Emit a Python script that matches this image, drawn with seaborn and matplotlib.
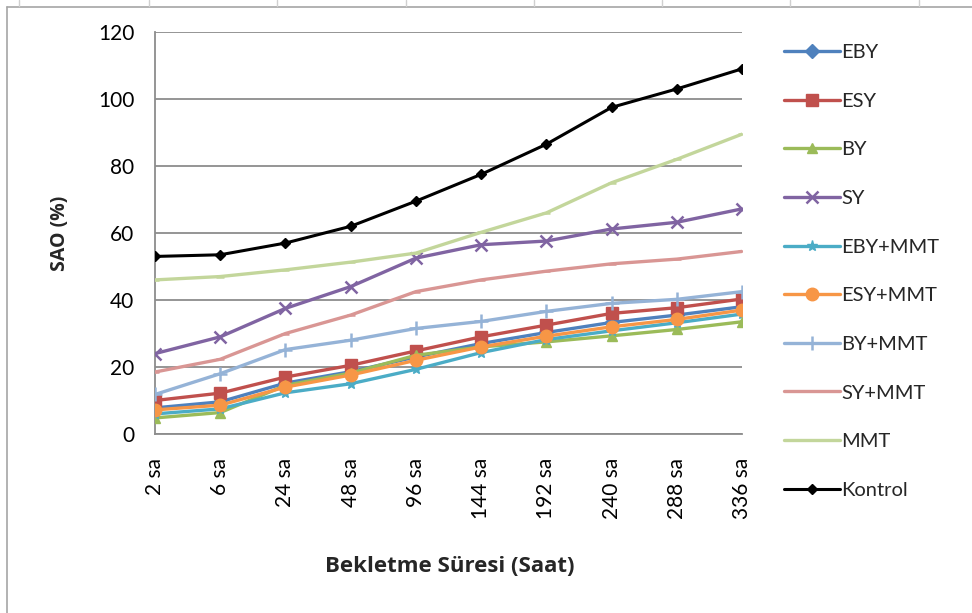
import matplotlib
matplotlib.use("Agg")
import matplotlib.pyplot as plt
from matplotlib.lines import Line2D
import seaborn as sns
import pandas as pd

# Storage times and SAO (%) values per treatment
times = ["2 sa", "6 sa", "24 sa", "48 sa", "96 sa", "144 sa", "192 sa", "240 sa", "288 sa", "336 sa"]

eby = [7.8, 9.6, 15.2, 18.6, 23.0, 27.0, 30.3, 33.3, 35.5, 38.0]
esy = [10.0, 12.2, 17.0, 20.5, 24.8, 29.0, 32.5, 36.0, 37.7, 40.3]
by = [4.8, 6.4, 14.5, 18.2, 23.5, 26.0, 27.5, 29.3, 31.2, 33.5]
sy = [24.0, 29.0, 37.5, 44.0, 52.5, 56.5, 57.6, 61.2, 63.2, 67.2]
eby_mmt = [6.0, 7.5, 12.3, 15.0, 19.3, 24.3, 28.2, 30.8, 33.2, 35.8]
esy_mmt = [7.2, 8.6, 14.0, 17.6, 22.0, 26.0, 29.2, 32.0, 34.2, 37.0]
by_mmt = [11.8, 18.0, 25.2, 28.0, 31.5, 33.6, 36.6, 39.0, 40.2, 42.5]
sy_mmt = [18.5, 22.3, 30.0, 35.5, 42.5, 46.0, 48.6, 50.8, 52.2, 54.5]
mmt = [46.0, 47.0, 49.0, 51.3, 54.0, 60.2, 66.0, 75.0, 82.0, 89.5]
kontrol = [53.0, 53.5, 57.0, 62.0, 69.5, 77.5, 86.5, 97.5, 103.0, 109.0]

names = ["EBY", "ESY", "BY", "SY", "EBY+MMT", "ESY+MMT", "BY+MMT", "SY+MMT", "MMT", "Kontrol"]
values = [eby, esy, by, sy, eby_mmt, esy_mmt, by_mmt, sy_mmt, mmt, kontrol]

colors = ["#4F81BD", "#C0504D", "#9BBB59", "#8064A2", "#4BACC6",
          "#F79646", "#95B3D7", "#D99694", "#C3D69B", "#000000"]
markers = ["D", "s", "^", "x", "*", "o", "+", "_", "_", "D"]
msizes = [7, 8.5, 7.5, 9, 8, 9, 10, 6, 6, 5.5]
lwidths = [2.4, 2.4, 2.4, 2.4, 2.4, 2.4, 2.4, 2.4, 2.4, 2.2]

sns.set_style("white")
plt.rcParams["font.family"] = ["Lato", "DejaVu Sans"]

fig = plt.figure(figsize=(9.72, 6.13), dpi=100)
W, H = 972, 613
ax = fig.add_axes([155 / W, (H - 434) / H, (742 - 155) / W, (434 - 32) / H])

rows = []
for n, v in zip(names, values):
    for i, val in enumerate(v):
        rows.append({"series": n, "pos": i, "value": val})
df = pd.DataFrame(rows)

handles = []
for n, c, m, ms, lw in zip(names, colors, markers, msizes, lwidths):
    sub = df[df["series"] == n]
    mew = 1.8 if m in ("x", "+", "_") else 1.0
    sns.lineplot(data=sub, x="pos", y="value", ax=ax, color=c, lw=lw,
                 marker=m, markersize=ms, markeredgecolor=c, markerfacecolor=c,
                 markeredgewidth=mew, legend=False, zorder=3)
    lm = "None" if n in ("SY+MMT", "MMT") else m
    handles.append(Line2D([0], [0], color=c, lw=lw, marker=lm, markersize=ms,
                          markeredgecolor=c, markerfacecolor=c, markeredgewidth=mew))

ax.set_xlim(0, 9)
ax.set_ylim(0, 120)
ax.set_yticks(range(0, 121, 20))
ax.set_xticks(range(len(times)))
ax.set_xticklabels(times, rotation=90, va="top", ha="center")

ax.yaxis.grid(True, color="#8C8C8C", lw=1.3)
ax.set_axisbelow(True)
for s in ("top", "right"):
    ax.spines[s].set_visible(False)
for s in ("left", "bottom"):
    ax.spines[s].set_color("#8C8C8C")
    ax.spines[s].set_linewidth(1.3)
ax.tick_params(axis="both", which="major", direction="out", length=6,
               width=1.3, color="#8C8C8C", labelsize=15, labelcolor="black")
ax.tick_params(axis="y", pad=9)
ax.tick_params(axis="x", pad=11)

title_font = {"family": ["Open Sans", "DejaVu Sans"], "weight": "bold"}
ax.set_xlabel("Bekletme Süresi (Saat)", fontdict=title_font, fontsize=16)
ax.set_ylabel("SAO (%)", fontdict=title_font, fontsize=14)
ax.xaxis.set_label_coords((450 - 155) / (742 - 155), -(567 - 434) / (434 - 32))
ax.yaxis.set_label_coords(-(155 - 60) / (742 - 155), (434 - 233) / (434 - 32))
ax.xaxis.label.set_va("center")
ax.yaxis.label.set_va("center")

fig.legend(handles, names, loc="upper left",
           bbox_to_anchor=(766 / W, (H - 26) / H), frameon=False,
           fontsize=14.5, labelspacing=1.565, handlelength=2.75, handletextpad=0.1)

# chart frame and sheet cell lines behind it
frame_kw = dict(color="#A6A6A6", lw=1.2, transform=None)
fig.add_artist(Line2D([7, 7], [0, H - 7], **frame_kw))
fig.add_artist(Line2D([7, W], [H - 7, H - 7], **frame_kw))
for xc in [19, 149, 277, 406, 534, 662, 790, 919]:
    fig.add_artist(Line2D([xc, xc], [H - 6, H], color="#D0D0D0", lw=1, transform=None))

fig.savefig("out.png", dpi=100)
